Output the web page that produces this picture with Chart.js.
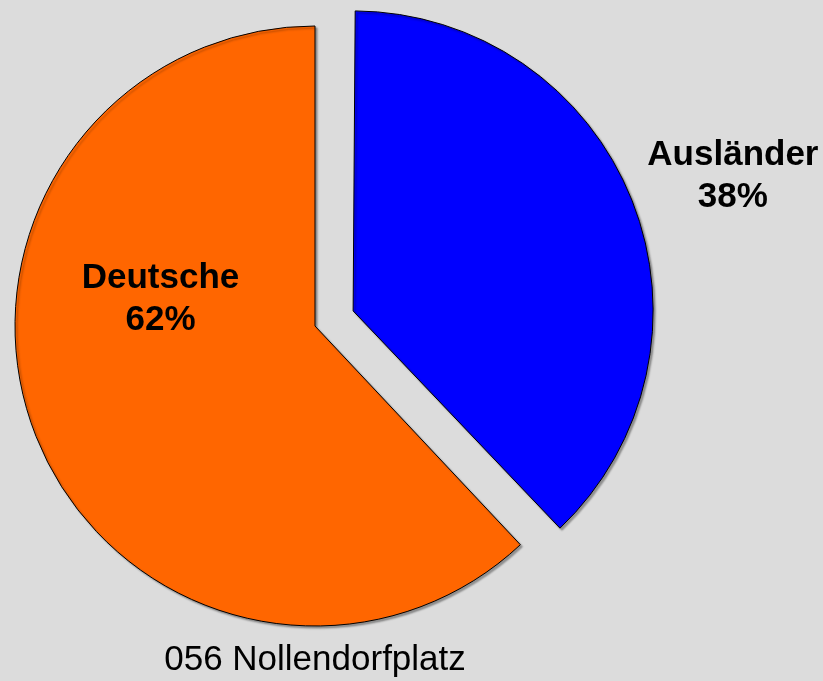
<!DOCTYPE html>
<html><head><meta charset="utf-8">
<script src="https://cdn.jsdelivr.net/npm/chart.js@4/dist/chart.umd.min.js"></script>
<style>html,body{margin:0;padding:0;background:#dcdcdc;overflow:hidden}#wrap{width:823px;height:681px;position:relative}</style>
</head><body><div id="wrap"><canvas id="c"></canvas></div>
<script>
const categories = ['Ausländer', 'Deutsche'];
const percentages = [38, 62];
const sliceColors = ['#0000ff', '#ff6600'];
const sliceOffsets = [164, 0];
const chartTitle = '056 Nollendorfplatz';
// label anchor positions relative to pie center, in radius units (layout only)
const labelAnchors = [[1.393, -0.500], [-0.515, -0.090]];

const FONT = '"Liberation Sans", Arial, Helvetica, sans-serif';

const fixOffset = {
  id: 'fixOffset',
  afterDatasetsUpdate(chart) {
    const meta = chart.getDatasetMeta(0);
    meta.data.forEach(arc => {
      const off = (arc.options.offset || 0) / 4;
      const circ = arc.endAngle - arc.startAngle;
      const fix = 1 - Math.sin(Math.min(Math.PI, circ));
      arc.outerRadius -= off * fix;
    });
  }
};

const shadow = {
  id: 'shadow',
  beforeDatasetsDraw(chart) {
    const ctx = chart.ctx;
    ctx.save();
    ctx.shadowColor = 'rgba(0,0,0,0.35)';
    ctx.shadowOffsetX = 2;
    ctx.shadowOffsetY = 2;
    ctx.shadowBlur = 2;
  },
  afterDatasetsDraw(chart) {
    chart.ctx.restore();
  }
};

const sliceLabels = {
  id: 'sliceLabels',
  afterDraw(chart) {
    const ctx = chart.ctx;
    const meta = chart.getDatasetMeta(0);
    const ref = meta.data[1];
    const cx = ref.x, cy = ref.y, r = ref.outerRadius;
    ctx.save();
    ctx.fillStyle = '#000';
    ctx.font = 'bold 35px ' + FONT;
    ctx.textAlign = 'center';
    ctx.textBaseline = 'middle';
    categories.forEach((cat, i) => {
      const x = cx + labelAnchors[i][0] * r;
      const y = cy + labelAnchors[i][1] * r;
      ctx.fillText(cat, x, y - 21);
      ctx.fillText(percentages[i] + '%', x, y + 21);
    });
    ctx.restore();
  }
};

new Chart(document.getElementById('c'), {
  type: 'pie',
  data: {
    labels: categories,
    datasets: [{
      data: percentages,
      backgroundColor: sliceColors,
      borderColor: '#000',
      borderWidth: 1,
      offset: sliceOffsets,
      radius: 300,
      clip: false
    }]
  },
  options: {
    responsive: true,
    maintainAspectRatio: false,
    animation: false,
    events: [],
    layout: { padding: { left: 0, right: 193, top: 17, bottom: 0 } },
    plugins: {
      legend: { display: false },
      tooltip: { enabled: false },
      title: {
        display: true,
        text: chartTitle,
        position: 'bottom',
        color: '#000',
        font: { family: FONT, size: 35, weight: 'normal', lineHeight: 1.2 },
        padding: { top: 4, bottom: 0 }
      }
    }
  },
  plugins: [fixOffset, shadow, sliceLabels]
});
</script>
</body></html>
